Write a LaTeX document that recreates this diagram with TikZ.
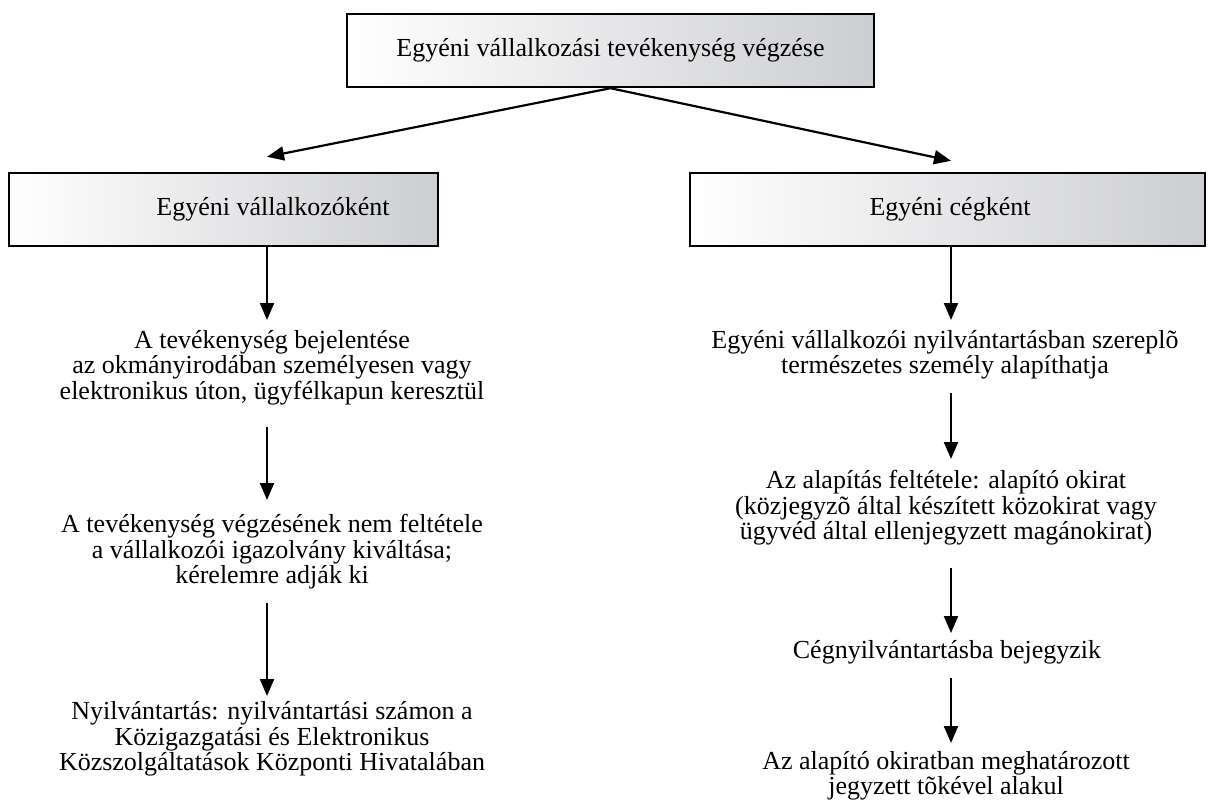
\documentclass[tikz,border=0pt]{standalone}
\usepackage{fontspec}
\setmainfont{Liberation Serif}
\usetikzlibrary{arrows.meta,calc}
\definecolor{boxgray}{RGB}{205,206,209}
\begin{document}
\begin{tikzpicture}[x=1pt,y=-1pt,
  box/.style={draw=black, line width=2.4pt, rectangle, inner sep=0pt,
    left color=white, right color=boxgray},
  txt/.style={inner sep=0pt, align=center, font=\fontsize{26}{25.5}\selectfont},
  arr/.style={line width=2.2pt, -{Triangle[length=17pt,width=14pt]}}]
\useasboundingbox (0,0) rectangle (1208,805);

% column axes for the vertical arrows
\coordinate (lc) at (267,0);
\coordinate (rc) at (951,0);

% header boxes
\node[box, minimum width=527pt, minimum height=73pt] (top) at (610.5,50.5) {};
\node[txt] (toptxt) at (610.5,50.5) {Egyéni vállalkozási tevékenység végzése};

\node[box, minimum width=429pt, minimum height=73pt] (lbox) at (223.5,209.5) {};
\node[txt] (ltitle) at (273,209.5) {Egyéni vállalkozóként};

\node[box, minimum width=515pt, minimum height=73pt] (rbox) at (947.5,209.5) {};
\node[txt] (rtitle) at (950,209.5) {Egyéni cégként};

% left branch
\node[txt] (l1) at (272,367.5) {A tevékenység bejelentése\\az okmányirodában személyesen vagy\\elektronikus úton, ügyfélkapun keresztül};
\node[txt] (l2) at (272,552) {A tevékenység végzésének nem feltétele\\a vállalkozói igazolvány kiváltása;\\kérelemre adják ki};
\node[txt] (l3) at (272,739) {Nyilvántartás: nyilvántartási számon a\\Közigazgatási és Elektronikus\\Közszolgáltatások Központi Hivatalában};

% right branch
\node[txt] (r1) at (945,355) {Egyéni vállalkozói nyilvántartásban szereplõ\\természetes személy alapíthatja};
\node[txt] (r2) at (946,508) {Az alapítás feltétele: alapító okirat\\(közjegyzõ által készített közokirat vagy\\ügyvéd által ellenjegyzett magánokirat)};
\node[txt] (r3) at (947,652) {Cégnyilvántartásba bejegyzik};
\node[txt] (r4) at (946,776) {Az alapító okiratban meghatározott\\jegyzett tõkével alakul};

% connectors
\draw[arr] (top.south) -- ($(lbox.north -| lc)+(0,-15)$);
\draw[arr] (top.south) -- ($(rbox.north -| rc)+(0,-11)$);

\draw[arr] (lbox.south -| lc) -- ($(l1.center -| lc)+(0,-47.5)$);
\draw[arr] ($(l1.center -| lc)+(0,59.5)$) -- ($(l2.center -| lc)+(0,-52)$);
\draw[arr] ($(l2.center -| lc)+(0,51)$) -- ($(l3.center -| lc)+(0,-43)$);

\draw[arr] (rbox.south -| rc) -- ($(r1.center -| rc)+(0,-35)$);
\draw[arr] ($(r1.center -| rc)+(0,38)$) -- ($(r2.center -| rc)+(0,-49)$);
\draw[arr] ($(r2.center -| rc)+(0,60)$) -- ($(r3.center -| rc)+(0,-19)$);
\draw[arr] ($(r3.center -| rc)+(0,26)$) -- ($(r4.center -| rc)+(0,-33)$);
\end{tikzpicture}
\end{document}
